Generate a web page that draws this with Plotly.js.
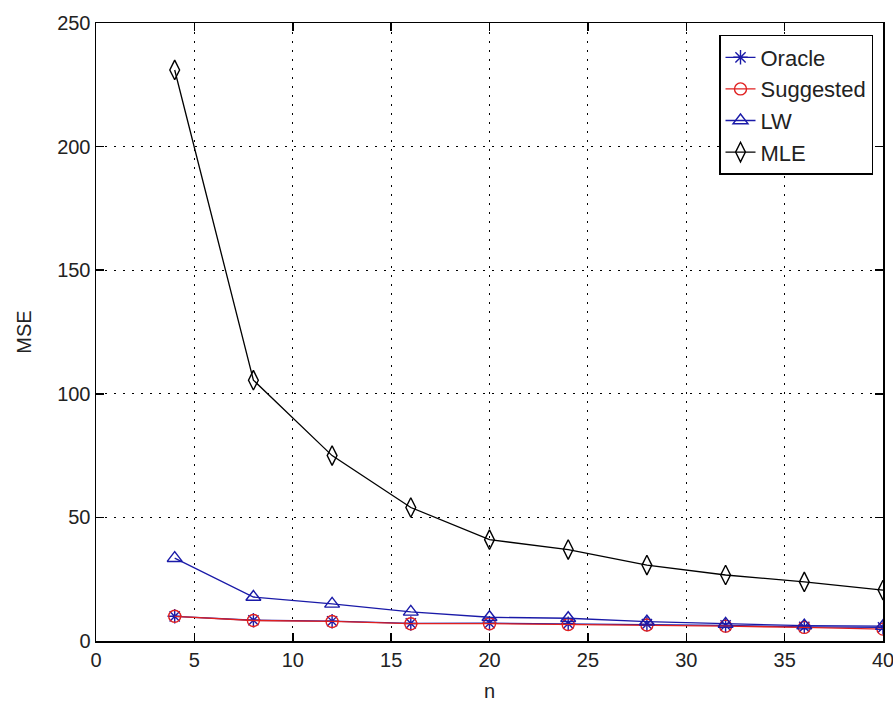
<!DOCTYPE html>
<html>
<head>
<meta charset="utf-8">
<script src="https://cdn.plot.ly/plotly-3.0.1.min.js"></script>
<style>html,body{margin:0;padding:0;background:#fff;}#chart{width:893px;height:704px;}</style>
</head>
<body>
<div id="chart"></div>
<script>
var n = [4, 8, 12, 16, 20, 24, 28, 32, 36, 40];
var oracle = [10, 8.4, 8, 7.1, 7.2, 7, 6.8, 6.3, 5.7, 5.5];
var suggested = [10, 8.3, 7.9, 7, 7, 6.7, 6.5, 6, 5.5, 4.8];
var lw = [33.5, 17.8, 15, 11.8, 9.6, 9.2, 7.8, 6.9, 6.2, 6.0];
var mle = [231, 105.5, 75, 54, 41, 37, 30.7, 26.7, 23.9, 20.6];
var seriesNames = ['Oracle', 'Suggested', 'LW', 'MLE'];
var xTicks = [0, 5, 10, 15, 20, 25, 30, 35, 40];
var yTicks = [0, 50, 100, 150, 200, 250];

var FONT = 'Liberation Sans, Arial, sans-serif';
function tr(name, y, color, symbol, size) {
  return {
    x: n, y: y, name: name, type: 'scatter', mode: 'lines+markers',
    legendgroup: name,
    line: {color: color, width: 1.3},
    marker: {symbol: symbol, size: size, color: color, line: {color: color, width: 1.4}}
  };
}
var data = [
  tr(seriesNames[0], oracle, '#1a1aa8', 'asterisk-open', 12),
  tr(seriesNames[1], suggested, '#e02020', 'circle-open', 12),
  tr(seriesNames[2], lw, '#1a1aa8', 'triangle-up-open', 13),
  tr(seriesNames[3], mle, '#000000', 'diamond-tall-open', 14)
];
var axisCommon = {
  showline: true, linecolor: '#000', linewidth: 1.5, mirror: 'ticks',
  ticks: 'inside', ticklen: 8, tickwidth: 1.5, tickcolor: '#000',
  showgrid: true, gridcolor: '#000', gridwidth: 1.2, griddash: '2px,7px',
  zeroline: false, tickfont: {family: FONT, size: 20, color: '#222'},
  ticklabeloverflow: 'allow',
  automargin: false, fixedrange: true
};
var layout = {
  width: 893, height: 704,
  margin: {l: 96, r: 10, t: 23, b: 63},
  paper_bgcolor: '#fff', plot_bgcolor: '#fff',
  font: {family: FONT, size: 20, color: '#222'},
  xaxis: Object.assign({}, axisCommon, {
    range: [0, 40], tickvals: xTicks, ticktext: xTicks.map(String),
    title: {text: 'n', font: {family: FONT, size: 20, color: '#222'}, standoff: 14}
  }),
  yaxis: Object.assign({}, axisCommon, {
    range: [0, 250], tickvals: yTicks, ticktext: yTicks.map(String),
    title: {text: 'MSE', font: {family: FONT, size: 20, color: '#222'}, standoff: 20}
  }),
  showlegend: true,
  legend: {
    x: 0.9873, y: 0.9806, xanchor: 'right', yanchor: 'top',
    bgcolor: '#fff', bordercolor: '#000', borderwidth: 1.5,
    font: {family: FONT, size: 22, color: '#222'},
    tracegroupgap: 7, traceorder: 'normal'
  }
};
Plotly.newPlot('chart', data, layout, {staticPlot: true, displayModeBar: false});
</script>
</body>
</html>
